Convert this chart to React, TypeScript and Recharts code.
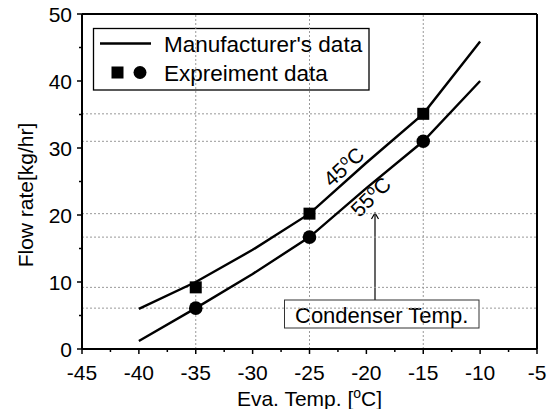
import React from 'react';
import { ComposedChart, Line, XAxis, YAxis, ReferenceLine, Customized } from 'recharts';

const evaTemps = [-40, -35, -30, -25, -20, -15, -10];
const manuf45 = [6.0, 10.0, 14.8, 20.2, 27.8, 35.1, 45.9];
const manuf55 = [1.2, 6.1, 11.2, 16.7, 24.0, 31.0, 40.0];
const expTemps = [-35, -25, -15];
const exp45 = [9.2, 20.2, 35.1];
const exp55 = [6.1, 16.7, 31.0];
const xTicks = [-45, -42.5, -40, -37.5, -35, -32.5, -30, -27.5, -25, -22.5, -20, -17.5, -15, -12.5, -10, -7.5, -5];
const yTicks = [0, 5, 10, 15, 20, 25, 30, 35, 40, 45, 50];

const line45 = evaTemps.map((x, i) => ({ x, y: manuf45[i] }));
const line55 = evaTemps.map((x, i) => ({ x, y: manuf55[i] }));
const pts45 = expTemps.map((x, i) => ({ x, y: exp45[i] }));
const pts55 = expTemps.map((x, i) => ({ x, y: exp55[i] }));

const FONT = '"Liberation Sans", Arial, sans-serif';
const isMajorX = (v: number) => Math.abs(v % 5) < 1e-9;
const isMajorY = (v: number) => Math.abs(v % 10) < 1e-9;

const BottomTick = (p: any) => {
  const major = isMajorX(p.payload.value);
  return (
    <g>
      <line x1={p.x} x2={p.x} y1={p.y} y2={p.y + (major ? 5 : 3)} stroke="#000" strokeWidth={1.5} />
      {major && (
        <text x={p.x} y={p.y + 31} textAnchor="middle" fontSize={21} fontFamily={FONT} fill="#000">
          {p.payload.value}
        </text>
      )}
    </g>
  );
};
const TopTick = (p: any) => {
  const major = isMajorX(p.payload.value);
  return <line x1={p.x} x2={p.x} y1={p.y} y2={p.y + (major ? 5 : 3)} stroke="#000" strokeWidth={1.5} />;
};
const LeftTick = (p: any) => {
  const major = isMajorY(p.payload.value);
  return (
    <g>
      <line x1={p.x - (major ? 5 : 3)} x2={p.x} y1={p.y} y2={p.y} stroke="#000" strokeWidth={1.5} />
      {major && (
        <text x={p.x - 10} y={p.y + 7.5} textAnchor="end" fontSize={21} fontFamily={FONT} fill="#000">
          {p.payload.value}
        </text>
      )}
    </g>
  );
};
const RightTick = (p: any) => {
  const major = isMajorY(p.payload.value);
  return <line x1={p.x - (major ? 5 : 3)} x2={p.x} y1={p.y} y2={p.y} stroke="#000" strokeWidth={1.5} />;
};

const SquareDot = (p: any) => (
  <rect x={p.cx - 6} y={p.cy - 6} width={12} height={12} fill="#000" />
);
const CircleDot = (p: any) => <circle cx={p.cx} cy={p.cy} r={6.8} fill="#000" />;

const Overlay = () => (
  <g fontFamily={FONT} fill="#000">
    {/* legend */}
    <rect x={93.5} y={28.5} width={275.5} height={61.5} fill="#fff" stroke="#000" strokeWidth={1.3} />
    <line x1={100} x2={151} y1={43.5} y2={43.5} stroke="#000" strokeWidth={2.3} />
    <text x={164} y={51.5} fontSize={22.5}>Manufacturer's data</text>
    <rect x={111.5} y={66.5} width={12} height={12} fill="#000" />
    <circle cx={140} cy={72.5} r={6.5} fill="#000" />
    <text x={164} y={80.5} fontSize={22.5}>Expreiment data</text>
    {/* curve labels */}
    <text x={344} y={174} fontSize={21} textAnchor="middle" transform="rotate(-42 344 167)">
      45<tspan fontSize={14} dy={-8}>o</tspan><tspan dy={8}>C</tspan>
    </text>
    <text x={371} y={204} fontSize={21} textAnchor="middle" transform="rotate(-44 371 197)">
      55<tspan fontSize={14} dy={-8}>o</tspan><tspan dy={8}>C</tspan>
    </text>
    {/* arrow */}
    <line x1={375} x2={375} y1={300} y2={213.5} stroke="#000" strokeWidth={1.2} />
    <polyline points="371.5,219 375,213 378.5,219" fill="none" stroke="#000" strokeWidth={1.2} />
    <rect x={284.5} y={300} width={194.5} height={28} fill="#fff" stroke="#333" strokeWidth={1} />
    <text x={295} y={322.5} fontSize={22}>Condenser Temp.</text>
    {/* axis titles */}
    <text x={309.5} y={406} fontSize={21} textAnchor="middle">
      Eva. Temp. [<tspan fontSize={14} dy={-8}>o</tspan><tspan dy={8}>C]</tspan>
    </text>
    <text x={0} y={0} fontSize={21} textAnchor="middle" transform="translate(33 195) rotate(-90)">
      Flow rate[kg/hr]
    </text>
  </g>
);

export default function App() {
  return (
    <div style={{ position: 'absolute', left: 0, top: 0, background: '#fff' }}>
      <ComposedChart width={554} height={409} margin={{ top: 13, right: 16, bottom: 30, left: 22 }}>
        <XAxis
          xAxisId="bottom"
          dataKey="x"
          type="number"
          domain={[-45, -5]}
          ticks={xTicks}
          interval={0}
          height={30}
          tickSize={0}
          tickMargin={0}
          tick={<BottomTick />}
          axisLine={{ stroke: '#000', strokeWidth: 2 }}
          allowDuplicatedCategory={false}
        />
        <XAxis
          xAxisId="top"
          orientation="top"
          dataKey="x"
          type="number"
          domain={[-45, -5]}
          ticks={xTicks}
          interval={0}
          height={1}
          tickSize={0}
          tickMargin={0}
          tick={<TopTick />}
          axisLine={{ stroke: '#000', strokeWidth: 2 }}
        />
        <YAxis
          yAxisId="left"
          type="number"
          domain={[0, 50]}
          ticks={yTicks}
          interval={0}
          width={60}
          tickSize={0}
          tickMargin={0}
          tick={<LeftTick />}
          axisLine={{ stroke: '#000', strokeWidth: 2 }}
        />
        <YAxis
          yAxisId="right"
          orientation="right"
          type="number"
          domain={[0, 50]}
          ticks={yTicks}
          interval={0}
          width={1}
          tickSize={0}
          tickMargin={0}
          tick={<RightTick />}
          axisLine={{ stroke: '#000', strokeWidth: 2 }}
        />
        {expTemps.map((t) => (
          <ReferenceLine key={'vx' + t} x={t} xAxisId="bottom" yAxisId="left" stroke="#999" strokeDasharray="2 2" strokeWidth={1} />
        ))}
        {[...exp45, ...exp55].map((v) => (
          <ReferenceLine key={'hy' + v} y={v} xAxisId="bottom" yAxisId="left" stroke="#999" strokeDasharray="2 2" strokeWidth={1} />
        ))}
        <Line data={line45} dataKey="y" xAxisId="bottom" yAxisId="left" type="linear" stroke="#000" strokeWidth={2.4} dot={false} isAnimationActive={false} />
        <Line data={line55} dataKey="y" xAxisId="bottom" yAxisId="left" type="linear" stroke="#000" strokeWidth={2.4} dot={false} isAnimationActive={false} />
        <Line data={pts45} dataKey="y" xAxisId="bottom" yAxisId="left" stroke="none" dot={<SquareDot />} activeDot={false} isAnimationActive={false} />
        <Line data={pts55} dataKey="y" xAxisId="bottom" yAxisId="left" stroke="none" dot={<CircleDot />} activeDot={false} isAnimationActive={false} />
        <Customized component={<Overlay />} />
      </ComposedChart>
    </div>
  );
}
